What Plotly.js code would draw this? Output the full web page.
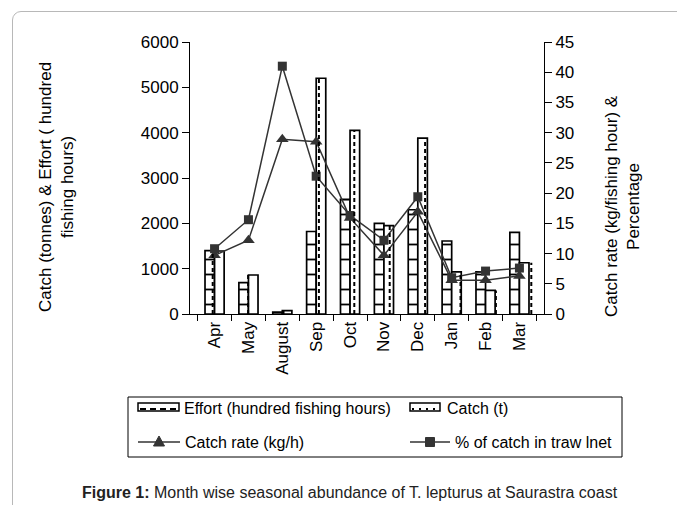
<!DOCTYPE html>
<html>
<head>
<meta charset="utf-8">
<script src="https://cdn.plot.ly/plotly-3.0.1.min.js"></script>
<style>
html,body{margin:0;padding:0;background:#fff;overflow:hidden;}
#wrap{position:relative;width:677px;height:505px;}
#chart{position:absolute;left:0;top:0;width:677px;height:505px;}
#frame{position:absolute;left:12px;top:11px;width:720px;height:600px;border:1px solid #b8b8b8;border-radius:9px;pointer-events:none;}
</style>
</head>
<body>
<div id="wrap"><div id="chart"></div><div id="frame"></div></div>
<script>
const months = ["Apr","May","August","Sep","Oct","Nov","Dec","Jan","Feb","Mar"];
const effort = [1400, 690, 40, 1820, 2530, 2000, 2300, 1610, 930, 1800];
const catchT = [1390, 860, 75, 5200, 4050, 1950, 3880, 930, 520, 1130];
const catchRate = [9.7, 12.2, 28.9, 28.5, 15.9, 9.7, 16.9, 5.6, 5.6, 6.3];
const pctTrawl = [10.8, 15.6, 41.0, 22.8, 16.3, 12.2, 19.4, 6.0, 7.1, 7.6];
const seriesNames = ["Effort (hundred fishing hours)", "Catch (t)", "Catch rate (kg/h)", "% of catch in traw lnet"];

const bargap = 0.435;
const barW = (1 - bargap) / 2;
// dashed centre line inside each catch bar
const dx = [], dy = [];
catchT.forEach((v, i) => { dx.push(i + barW / 2, i + barW / 2, null); dy.push(0, v, null); });

const fontF = "Liberation Sans, Arial, sans-serif";

const traces = [
  {type:"bar", name:seriesNames[0], x:months, y:effort,
   marker:{color:"#fff", line:{color:"#000", width:1.7},
           pattern:{shape:"-", size:15, solidity:0.12, fgcolor:"#000", bgcolor:"#fff"}}},
  {type:"bar", name:seriesNames[1], x:months, y:catchT,
   marker:{color:"#fff", line:{color:"#000", width:1.7}}},
  {type:"scatter", mode:"lines", x:dx, y:dy, xaxis:"x2", yaxis:"y",
   line:{color:"#000", width:2, dash:"4px,3px"}, hoverinfo:"skip"},
  {type:"scatter", mode:"lines+markers", name:seriesNames[2], x:months, y:catchRate, yaxis:"y2",
   line:{color:"#333", width:1.5}, marker:{symbol:"triangle-up", size:11, color:"#333"}},
  {type:"scatter", mode:"lines+markers", name:seriesNames[3], x:months, y:pctTrawl, yaxis:"y2",
   line:{color:"#333", width:1.5}, marker:{symbol:"square", size:9, color:"#333"}}
];

// plot area in pixels: x 190..544, y 42..314
const PX = p => (p - 190) / 354;
const PY = p => (314 - p) / 272;

const shapes = [
  // legend box
  {type:"rect", xref:"paper", yref:"paper", x0:PX(128), x1:PX(622), y0:PY(397), y1:PY(457),
   line:{color:"#000", width:1}, fillcolor:"#fff", layer:"below"},
  // effort swatch
  {type:"rect", xref:"paper", yref:"paper", x0:PX(138), x1:PX(179), y0:PY(403), y1:PY(411),
   line:{color:"#000", width:1.5}, fillcolor:"#fff"},
  {type:"line", xref:"paper", yref:"paper", x0:PX(140), x1:PX(177), y0:PY(409), y1:PY(409),
   line:{color:"#000", width:2, dash:"6px,4px"}},
  // catch swatch
  {type:"rect", xref:"paper", yref:"paper", x0:PX(410), x1:PX(440), y0:PY(403), y1:PY(411),
   line:{color:"#000", width:1.5}, fillcolor:"#fff"},
  {type:"line", xref:"paper", yref:"paper", x0:PX(412), x1:PX(438), y0:PY(409), y1:PY(409),
   line:{color:"#000", width:2, dash:"2px,5px"}},
  // catch rate swatch
  {type:"line", xref:"paper", yref:"paper", x0:PX(138), x1:PX(180), y0:PY(442), y1:PY(442),
   line:{color:"#333", width:1.5}},
  {type:"path", xref:"paper", yref:"paper", xsizemode:"pixel", ysizemode:"pixel",
   xanchor:PX(159), yanchor:PY(442), path:"M-5.5,-4 L5.5,-4 L0,6 Z",
   fillcolor:"#333", line:{color:"#333", width:1}},
  // % swatch
  {type:"line", xref:"paper", yref:"paper", x0:PX(410), x1:PX(450), y0:PY(442), y1:PY(442),
   line:{color:"#333", width:1.5}},
  {type:"path", xref:"paper", yref:"paper", xsizemode:"pixel", ysizemode:"pixel",
   xanchor:PX(430), yanchor:PY(442), path:"M-4.5,-4.5 L4.5,-4.5 L4.5,4.5 L-4.5,4.5 Z",
   fillcolor:"#333", line:{color:"#333", width:1}}
];

const legendText = (t, x, y) => ({xref:"paper", yref:"paper", x:PX(x), y:PY(y), xanchor:"left",
  yanchor:"middle", showarrow:false, font:{size:16}, text:t});

const layout = {
  width:677, height:505,
  margin:{l:190, r:133, t:42, b:191},
  paper_bgcolor:"#fff", plot_bgcolor:"rgba(0,0,0,0)",
  font:{family:fontF, size:17, color:"#000"},
  barmode:"group", bargap:bargap, bargroupgap:0,
  showlegend:false,
  xaxis:{type:"category", showline:true, linecolor:"#000", linewidth:1, ticks:"outside", ticklen:6,
         tickcolor:"#000", tickson:"boundaries", tickangle:-90, showgrid:false, zeroline:false,
         tickfont:{size:17}},
  xaxis2:{overlaying:"x", range:[-0.5, 9.5], visible:false, fixedrange:true},
  yaxis:{range:[0,6000], dtick:1000, showline:true, linecolor:"#000", linewidth:1, ticks:"outside",
         ticklen:7, tickcolor:"#000", showgrid:false, zeroline:false, tickfont:{size:17}},
  yaxis2:{range:[0,45], dtick:5, overlaying:"y", side:"right", showline:true, linecolor:"#000", linewidth:1,
          ticks:"outside", ticklen:7, tickcolor:"#000", showgrid:false, zeroline:false, tickfont:{size:17}},
  shapes:shapes,
  annotations:[
    {xref:"paper", yref:"paper", x:PX(56), y:PY(187), xanchor:"center", yanchor:"middle",
     textangle:-90, showarrow:false, font:{size:17},
     text:"Catch (tonnes) & Effort ( hundred<br>fishing hours)"},
    {xref:"paper", yref:"paper", x:PX(622), y:PY(206), xanchor:"center", yanchor:"middle",
     textangle:-90, showarrow:false, font:{size:17},
     text:"Catch rate (kg/fishing hour) &<br>Percentage"},
    legendText(seriesNames[0], 182, 408),
    legendText(seriesNames[1], 445, 408),
    legendText(seriesNames[2], 183, 442),
    legendText(seriesNames[3], 453, 442),
    {xref:"paper", yref:"paper", x:PX(350), y:PY(492), xanchor:"center", yanchor:"middle",
     showarrow:false, font:{size:16, color:"#222"},
     text:"<b>Figure 1:</b> Month wise seasonal abundance of T. lepturus at Saurastra coast"}
  ]
};

Plotly.newPlot("chart", traces, layout, {staticPlot:true, displayModeBar:false});
</script>
</body>
</html>
